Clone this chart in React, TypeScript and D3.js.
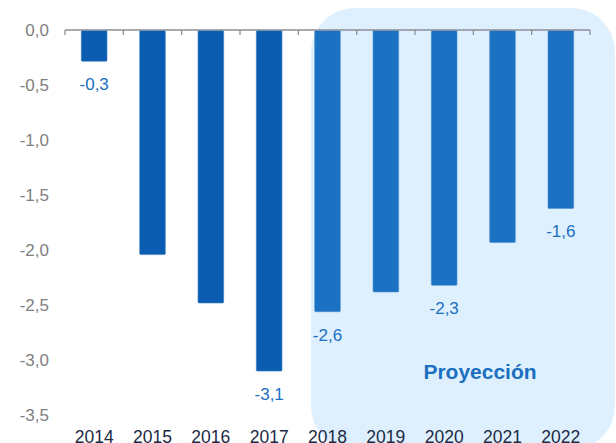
import React from "react";
import * as d3 from "d3";

const years = ["2014", "2015", "2016", "2017", "2018", "2019", "2020", "2021", "2022"];
const values = [-0.28, -2.04, -2.48, -3.1, -2.56, -2.38, -2.32, -1.93, -1.62];
const valueLabels = ["-0,3", "", "", "-3,1", "-2,6", "", "-2,3", "", "-1,6"];
const yTicks = [0, -0.5, -1, -1.5, -2, -2.5, -3, -3.5];
const projectionStart = "2018";
const projectionLabel = "Proyección";

const W = 616;
const H = 443;
const FONT = "'Liberation Sans', Arial, sans-serif";

export default function App() {
  const x = d3
    .scaleBand<string>()
    .domain(years)
    .range([65, 590])
    .paddingInner(0.56)
    .paddingOuter(0.28);
  const y = d3.scaleLinear().domain([0, -3.5]).range([30.5, 415]);
  const step = x.step();
  const fmt = (v: number) => d3.format(".1f")(v).replace(".", ",").replace("−", "-");
  const projIdx = years.indexOf(projectionStart);

  return (
    <svg
      width={W}
      height={H}
      style={{ position: "absolute", left: 0, top: 0, display: "block" }}
      fontFamily={FONT}
    >
      <rect x={0} y={0} width={W} height={H} fill="#ffffff" />
      <rect x={311} y={8} width={304} height={442} rx={44} ry={44} fill="#DEF0FD" />

      {values.map((v, i) => (
        <rect
          key={years[i]}
          x={x(years[i])!}
          y={y(0)}
          width={x.bandwidth()}
          height={y(v) - y(0)}
          fill={i >= projIdx ? "#1B72C3" : "#0B5DB2"}
          stroke={i >= projIdx ? "#4A90D0" : "#3A7CC4"}
          strokeWidth={0.6}
          rx={1}
        />
      ))}

      <line x1={65} x2={590} y1={30} y2={30} stroke="#8A8F96" strokeWidth={1.3} />
      {d3.range(years.length + 1).map((i) => (
        <line
          key={i}
          x1={65 + i * step}
          x2={65 + i * step}
          y1={30}
          y2={35}
          stroke="#8A8F96"
          strokeWidth={1.3}
        />
      ))}

      {yTicks.map((t) => (
        <text
          key={t}
          x={49}
          y={y(t)}
          dy="0.35em"
          textAnchor="end"
          fontSize={17}
          fill="#7F7F7F"
        >
          {fmt(t)}
        </text>
      ))}

      {years.map((yr) => (
        <text
          key={yr}
          x={x(yr)! + x.bandwidth() / 2}
          y={442.5}
          textAnchor="middle"
          fontSize={17.5}
          fill="#1C2A45"
        >
          {yr}
        </text>
      ))}

      {values.map((v, i) =>
        valueLabels[i] ? (
          <text
            key={"l" + i}
            x={x(years[i])! + x.bandwidth() / 2}
            y={y(v) + 29}
            textAnchor="middle"
            fontSize={17}
            fill="#1B6FC0"
          >
            {valueLabels[i]}
          </text>
        ) : null
      )}

      <text
        x={480}
        y={379}
        textAnchor="middle"
        fontSize={21}
        fontWeight="bold"
        fill="#1B6FBF"
      >
        {projectionLabel}
      </text>
    </svg>
  );
}
